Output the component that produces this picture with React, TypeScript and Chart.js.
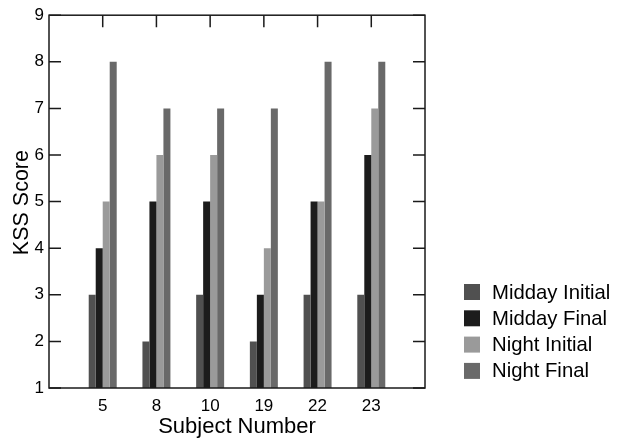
import React, { useEffect, useRef } from 'react';
import { Chart, registerables } from 'chart.js';

Chart.register(...registerables);

const subjects = ['5', '8', '10', '19', '22', '23'];
const seriesNames = ['Midday Initial', 'Midday Final', 'Night Initial', 'Night Final'];
const middayInitial = [3, 2, 3, 2, 3, 3];
const middayFinal = [4, 5, 5, 3, 5, 6];
const nightInitial = [5, 6, 6, 4, 5, 7];
const nightFinal = [8, 7, 7, 7, 8, 8];
const yTicks = [1, 2, 3, 4, 5, 6, 7, 8, 9];
const seriesColors = ['#505050', '#1c1c1c', '#9a9a9a', '#696969'];
const xTitle = 'Subject Number';
const yTitle = 'KSS Score';

const FONT = '"Liberation Sans", Arial, sans-serif';

const decorPlugin = {
  id: 'decor',
  afterDraw(chart: any) {
    const ctx = chart.ctx as CanvasRenderingContext2D;
    const { left, right, top, bottom } = chart.chartArea;
    const xs = chart.scales.x;
    const ys = chart.scales.y;
    ctx.save();
    ctx.strokeStyle = '#1a1a1a';
    ctx.lineWidth = 1.5;
    // frame
    ctx.strokeRect(left, top, right - left, bottom - top);
    // inward ticks left & right
    ctx.beginPath();
    yTicks.forEach((v) => {
      const y = ys.getPixelForValue(v);
      ctx.moveTo(left, y);
      ctx.lineTo(left + 12, y);
      ctx.moveTo(right, y);
      ctx.lineTo(right - 12, y);
    });
    // top ticks at categories
    subjects.forEach((_, i) => {
      const x = xs.getPixelForValue(i + 1);
      ctx.moveTo(x, top);
      ctx.lineTo(x, top + 12);
    });
    ctx.stroke();

    // titles
    ctx.fillStyle = '#000';
    ctx.textBaseline = 'alphabetic';
    ctx.textAlign = 'center';
    ctx.font = `22px ${FONT}`;
    ctx.fillText(xTitle, (left + right) / 2, 433);
    ctx.save();
    ctx.translate(28, (top + bottom) / 2 + 1);
    ctx.rotate(-Math.PI / 2);
    ctx.font = `21.5px ${FONT}`;
    ctx.fillText(yTitle, 0, 0);
    ctx.restore();

    // legend
    ctx.textAlign = 'left';
    ctx.font = `20.3px ${FONT}`;
    chart.data.datasets.forEach((ds: any, i: number) => {
      const y0 = 284 + i * 26.3;
      ctx.fillStyle = ds.backgroundColor;
      ctx.fillRect(464, y0, 16, 16);
      ctx.fillStyle = '#000';
      ctx.fillText(ds.label, 492, y0 + 14.5);
    });
    ctx.restore();
  },
};

export default function App() {
  const ref = useRef<HTMLCanvasElement | null>(null);
  useEffect(() => {
    if (!ref.current) return;
    const labels = ['', ...subjects, ''];
    const pad = (arr: number[]) => [null, ...arr, null];
    const series = [middayInitial, middayFinal, nightInitial, nightFinal];
    const chart = new Chart(ref.current, {
      type: 'bar',
      data: {
        labels,
        datasets: series.map((d, i) => ({
          label: seriesNames[i],
          data: pad(d) as any,
          backgroundColor: seriesColors[i],
          borderWidth: 0,
          barPercentage: 1,
          categoryPercentage: 0.521,
        })),
      },
      options: {
        responsive: false,
        animation: false,
        layout: { padding: { left: 0, right: 192, top: 12, bottom: 0 } },
        plugins: {
          legend: { display: false },
          tooltip: { enabled: false },
        },
        scales: {
          x: {
            offset: false,
            grid: { display: false, drawTicks: false },
            border: { display: false },
            ticks: {
              color: '#000',
              font: { family: FONT, size: 17 },
              padding: 8,
              maxRotation: 0,
              autoSkip: false,
            },
            afterFit: (s: any) => {
              s.height = 53;
            },
          },
          y: {
            min: 1,
            max: 9,
            grid: { display: false, drawTicks: false },
            border: { display: false },
            ticks: {
              stepSize: 1,
              color: '#000',
              font: { family: FONT, size: 17 },
              padding: 5,
            },
            afterFit: (s: any) => {
              s.width = 49;
            },
          },
        },
      },
      plugins: [decorPlugin],
    });
    return () => chart.destroy();
  }, []);
  return (
    <div style={{ position: 'fixed', left: 0, top: 0, width: 617, height: 441, background: '#fff' }}>
      <canvas ref={ref} width={617} height={441} />
    </div>
  );
}
